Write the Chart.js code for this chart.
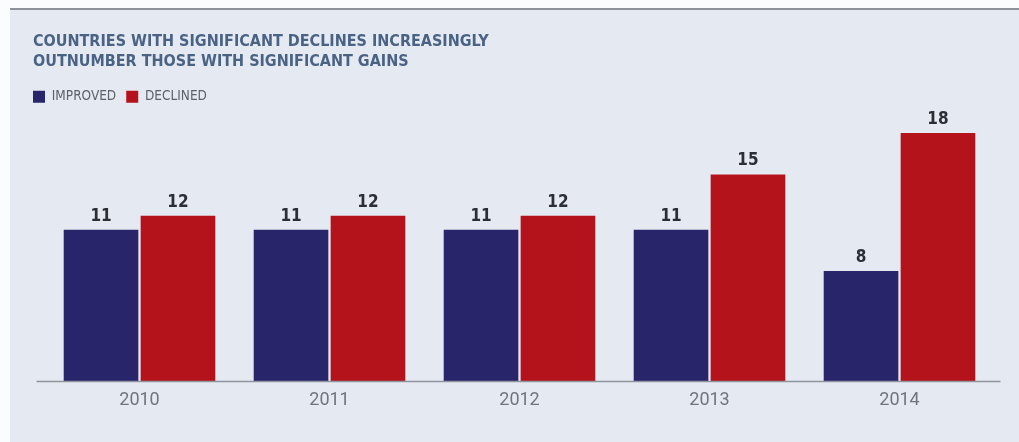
<!DOCTYPE html>
<html>
<head>
<meta charset="utf-8">
<script src="https://cdn.jsdelivr.net/npm/chart.js@4.4.1/dist/chart.umd.min.js"></script>
<style>
  html, body { margin: 0; padding: 0; background: #fbfcfd; }
  #panel {
    position: absolute;
    left: 10px; top: 8px;
    width: 1009px; height: 434px;
    background: #e5eaf2;
    border-top: 2px solid #8e939b;
    box-sizing: border-box;
  }
  #panel canvas { display: block; }
</style>
</head>
<body>
<div id="panel"><canvas id="chart" width="1009" height="432"></canvas></div>
<script>
const TITLE_LINES = [
  'COUNTRIES WITH SIGNIFICANT DECLINES INCREASINGLY',
  'OUTNUMBER THOSE WITH SIGNIFICANT GAINS',
];
const YEARS = ['2010', '2011', '2012', '2013', '2014'];
const IMPROVED = [11, 11, 11, 11, 8];
const DECLINED = [12, 12, 12, 15, 18];

const BLUE = '#29256b';
const RED = '#b5131b';
const NARROW = "'Liberation Sans Narrow', 'DejaVu Sans Condensed', 'Roboto', sans-serif";
const BODY_FONT = "'Roboto', 'Liberation Sans', sans-serif";

// value labels sitting above each bar
const barValues = {
  id: 'barValues',
  afterDatasetsDraw(chart) {
    const { ctx } = chart;
    ctx.save();
    ctx.font = `bold 17px ${NARROW}`;
    ctx.fillStyle = '#2b2e35';
    ctx.textAlign = 'center';
    ctx.textBaseline = 'bottom';
    chart.data.datasets.forEach((ds, i) => {
      chart.getDatasetMeta(i).data.forEach((bar, j) => {
        ctx.fillText(String(ds.data[j]), bar.x, bar.y - 5);
      });
    });
    ctx.restore();
  },
};

// baseline runs a little past the bars on both sides
const baseline = {
  id: 'baseline',
  afterDatasetsDraw(chart) {
    const { ctx, chartArea } = chart;
    const y = chart.scales.y.getPixelForValue(0);
    ctx.save();
    ctx.strokeStyle = '#8f959d';
    ctx.lineWidth = 1.5;
    ctx.beginPath();
    ctx.moveTo(chartArea.left - 8, y);
    ctx.lineTo(chartArea.right + 6, y);
    ctx.stroke();
    ctx.restore();
  },
};

// legend: flush with the title on the left, and a bit less height under it
const tightLegend = {
  id: 'tightLegend',
  beforeInit(chart) {
    const legend = chart.legend;
    const fit = legend.fit;
    legend.fit = function () {
      fit.call(this);
      this.height -= 8;
    };
    const draw = legend.draw;
    legend.draw = function (...args) {
      this.ctx.save();
      this.ctx.translate(-10, 0);
      draw.apply(this, args);
      this.ctx.restore();
    };
  },
};

new Chart(document.getElementById('chart'), {
  type: 'bar',
  data: {
    labels: YEARS,
    datasets: [
      {
        label: 'IMPROVED',
        data: IMPROVED,
        backgroundColor: BLUE,
        barPercentage: 0.97,
        categoryPercentage: 0.81,
      },
      {
        label: 'DECLINED',
        data: DECLINED,
        backgroundColor: RED,
        barPercentage: 0.97,
        categoryPercentage: 0.81,
      },
    ],
  },
  options: {
    responsive: false,
    animation: false,
    layout: { padding: { left: 23, right: 24.5, top: 22, bottom: 31 } },
    plugins: {
      title: {
        display: true,
        text: TITLE_LINES,
        align: 'start',
        color: '#4a6385',
        font: { family: NARROW, size: 16, weight: 'bold', lineHeight: 1.25 },
        padding: { top: 0, bottom: 8 },
      },
      legend: {
        position: 'top',
        align: 'start',
        labels: {
          boxWidth: 12,
          boxHeight: 12,
          color: '#5d6168',
          padding: 10,
          font: { family: NARROW, size: 13.5 },
        },
      },
      tooltip: { enabled: false },
    },
    scales: {
      x: {
        grid: { display: false },
        border: { display: false },
        ticks: {
          color: '#70747c',
          padding: 0,
          font: { family: BODY_FONT, size: 18 },
        },
      },
      y: {
        min: 0,
        max: 20,
        grid: { display: false },
        border: { display: false },
        ticks: { display: false },
        // hidden axis that only holds the plot in from the title's left edge
        afterFit(scale) {
          scale.width = 11.5;
        },
      },
    },
  },
  plugins: [barValues, baseline, tightLegend],
});
</script>
</body>
</html>
